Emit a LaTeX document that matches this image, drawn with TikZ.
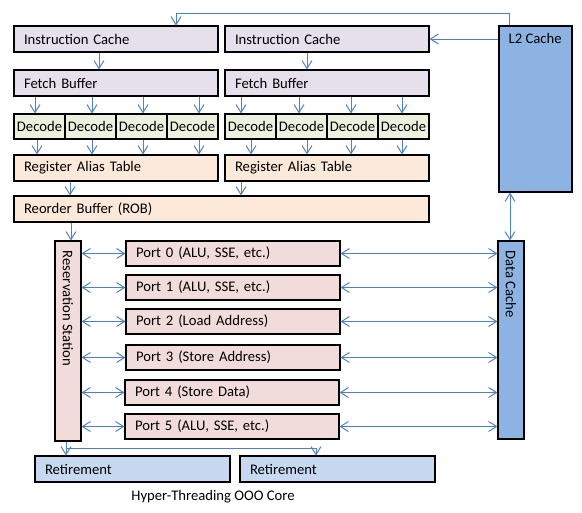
\documentclass[tikz,border=0pt]{standalone}
\usepackage{fontspec}
\setmainfont{Carlito}
\usetikzlibrary{arrows.meta}
\newdimen\px \px=0.75pt
\newdimen\bw \newdimen\bh \newdimen\tw
\definecolor{lav}{HTML}{E5E0EC}
\definecolor{dec}{HTML}{EBF1DE}
\definecolor{org}{HTML}{FDE9D9}
\definecolor{pnk}{HTML}{F2DCDB}
\definecolor{blu}{HTML}{8DB3E2}
\definecolor{ret}{HTML}{C6D9F1}
\definecolor{arrc}{HTML}{4F81BD}
\newcommand\blk[7]{%
  \bw=\dimexpr\px*(#5-#3)\relax
  \bh=\dimexpr\px*(#6-#4)\relax
  \tw=\dimexpr\bw-20\px\relax
  \node[#1, minimum width=\bw, minimum height=\bh] (#2) at ({(#3+#5)/2},{(#4+#6)/2}) {#7};}
\tikzset{
  base/.style={draw=black, line width=0.8pt, font=\fontsize{11}{13}\selectfont},
  lbox/.style={base, text width=\tw, inner xsep=10\px, inner ysep=0pt, align=left},
  dbox/.style={base, inner sep=0pt, align=center, fill=dec},
  ebox/.style={base, inner sep=0pt},
  txt/.style={font=\fontsize{11}{13}\selectfont, inner sep=0pt},
  arr/.style={draw=arrc, line width=0.75pt, -{Straight Barb[length=6pt,width=7.5pt]}},
  darr/.style={draw=arrc, line width=0.75pt, {Straight Barb[length=6pt,width=7.5pt]}-{Straight Barb[length=6pt,width=7.5pt]}},
}
\begin{document}
\begin{tikzpicture}[x=0.75pt,y=-0.75pt]
\useasboundingbox (0,0) rectangle (582,512);
% front end, thread 1
\blk{lbox,fill=lav}{ic1}{14}{26}{218}{52}{Instruction Cache}
\blk{lbox,fill=lav}{fb1}{14}{70}{218}{96}{Fetch Buffer}
\blk{dbox}{d11}{14}{114}{65}{139}{Decode}
\blk{dbox}{d12}{65}{114}{116}{139}{Decode}
\blk{dbox}{d13}{116}{114}{167}{139}{Decode}
\blk{dbox}{d14}{167}{114}{218}{139}{Decode}
\blk{lbox,fill=org}{rat1}{14}{155}{218}{181}{Register Alias Table}
% front end, thread 2
\blk{lbox,fill=lav}{ic2}{225}{26}{429}{52}{Instruction Cache}
\blk{lbox,fill=lav}{fb2}{225}{70}{429}{96}{Fetch Buffer}
\blk{dbox}{d21}{225}{114}{276}{139}{Decode}
\blk{dbox}{d22}{276}{114}{327}{139}{Decode}
\blk{dbox}{d23}{327}{114}{378}{139}{Decode}
\blk{dbox}{d24}{378}{114}{429}{139}{Decode}
\blk{lbox,fill=org}{rat2}{225}{155}{429}{181}{Register Alias Table}
\blk{lbox,fill=org}{rob}{14}{196}{429}{222}{Reorder Buffer (ROB)}
% caches
\blk{ebox,fill=blu}{l2}{499}{26}{572}{192}{}
\node[txt,anchor=west] (l2t) at ([xshift=10\px,yshift=-13\px]l2.north west) {L2 Cache};
\blk{ebox,fill=blu}{dc}{498}{241}{524}{439}{}
\node[txt,rotate=-90,anchor=west] (dct) at ([yshift=-10\px]dc.north) {Data Cache};
% reservation station and ports
\blk{ebox,fill=pnk}{rs}{55}{241}{81}{441}{}
\node[txt,rotate=-90,anchor=west] (rst) at ([yshift=-10\px]rs.north) {Reservation Station};
\blk{lbox,fill=pnk}{p0}{126}{241}{340}{266}{Port 0 (ALU, SSE, etc.)}
\blk{lbox,fill=pnk}{p1}{126}{275}{340}{300}{Port 1 (ALU, SSE, etc.)}
\blk{lbox,fill=pnk}{p2}{126}{309}{340}{334}{Port 2 (Load Address)}
\blk{lbox,fill=pnk}{p3}{126}{345}{340}{370}{Port 3 (Store Address)}
\blk{lbox,fill=pnk}{p4}{125}{380}{339}{405}{Port 4 (Store Data)}
\blk{lbox,fill=pnk}{p5}{125}{414}{339}{439}{Port 5 (ALU, SSE, etc.)}
% retirement
\blk{lbox,fill=ret}{ret1}{35}{456}{230}{482}{Retirement}
\blk{lbox,fill=ret}{ret2}{240}{456}{435}{482}{Retirement}
\node[txt] (cap) at (213,497) {Hyper-Threading OOO Core};
% connectors
\draw[arr] ([xshift=11\px]l2.north west) -- ++(0,-12) -| (ic1.north -| 176,0);
\draw[arr] (l2.west |- ic2.east) -- (ic2.east);
\draw[arr] (ic1.south -| 99,0) -- (fb1.north -| 99,0);
\draw[arr] (ic2.south -| 307,0) -- (fb2.north -| 307,0);
\draw[arr] (fb1.south -| 35,0) -- (d11.north -| 35,0);
\draw[arr] (fb1.south -| 92,0) -- (d12.north -| 92,0);
\draw[arr] (fb1.south -| 143,0) -- (d13.north -| 143,0);
\draw[arr] (fb1.south -| 199,0) -- (d14.north -| 199,0);
\draw[arr] (fb2.south -| 241,0) -- (d21.north -| 241,0);
\draw[arr] (fb2.south -| 299,0) -- (d22.north -| 299,0);
\draw[arr] (fb2.south -| 351,0) -- (d23.north -| 351,0);
\draw[arr] (fb2.south -| 402,0) -- (d24.north -| 402,0);
\draw[arr] (d11.south -| 37,0) -- (rat1.north -| 37,0);
\draw[arr] (d12.south -| 92,0) -- (rat1.north -| 92,0);
\draw[arr] (d13.south -| 143,0) -- (rat1.north -| 143,0);
\draw[arr] (d14.south -| 199,0) -- (rat1.north -| 199,0);
\draw[arr] (d21.south -| 251,0) -- (rat2.north -| 251,0);
\draw[arr] (d22.south -| 307,0) -- (rat2.north -| 307,0);
\draw[arr] (d23.south -| 351,0) -- (rat2.north -| 351,0);
\draw[arr] (d24.south -| 402,0) -- (rat2.north -| 402,0);
\draw[arr] (rat1.south -| 70,0) -- (rob.north -| 70,0);
\draw[arr] (rat2.south -| 241,0) -- (rob.north -| 241,0);
\draw[arr] (rob.south -| 71,0) -- (rs.north -| 71,0);
\draw[darr] (l2.south -| 510,0) -- (dc.north -| 510,0);
\foreach \p in {p0,p1,p2,p3,p4,p5}{
  \draw[darr] (rs.east |- \p.west) -- (\p.west);
  \draw[darr] (\p.east) -- (dc.west |- \p.east);
}
\draw[arr] (rs.south -| 66,0) -- (ret1.north -| 66,0);
\draw[arr] (rs.south -| 66,0) -- ++(0,7) -| (ret2.north -| 316,0);
\end{tikzpicture}
\end{document}
